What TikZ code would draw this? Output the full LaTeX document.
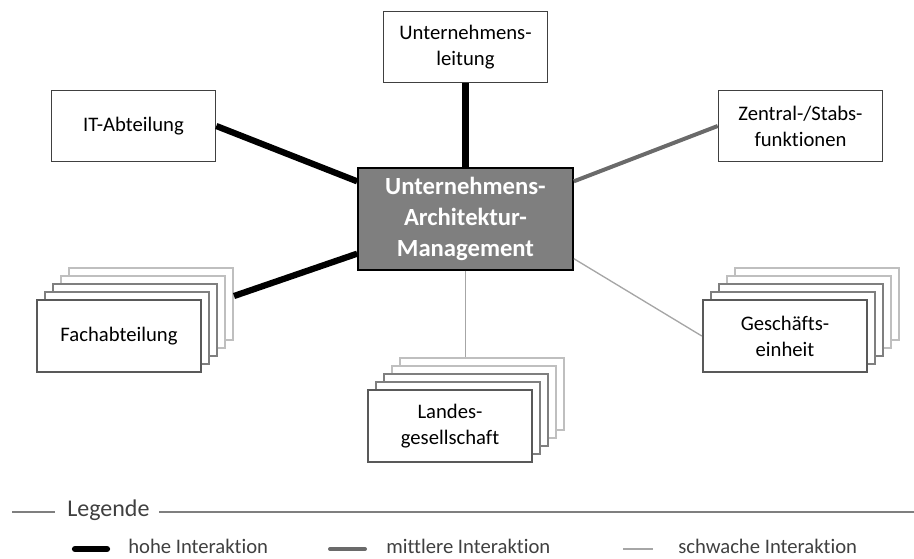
\documentclass[tikz,border=0pt]{standalone}
\usepackage{fontspec}
\setmainfont{Carlito}[Ligatures=NoCommon]

\definecolor{rahmen}{HTML}{404040}
\definecolor{dunkelgrau}{HTML}{595959}
\definecolor{mittelgrau}{HTML}{7F7F7F}
\definecolor{hellgrau}{HTML}{BFBFBF}
\definecolor{linienhell}{HTML}{A6A6A6}

\tikzset{
  box/.style={draw=rahmen, line width=1.2pt, fill=white, align=center,
    minimum width=123pt, minimum height=53pt, inner sep=0pt,
    font=\fontsize{15.5}{19.5}\selectfont},
  frontbox/.style={box, draw=dunkelgrau, line width=1.8pt, minimum height=54pt},
  backbox/.style={draw=#1, line width=1.5pt, fill=white,
    minimum width=123pt, minimum height=54pt, inner sep=0pt},
  hauptbox/.style={draw=black, line width=1.5pt, fill=mittelgrau,
    text=white, align=center, minimum width=161pt, minimum height=76pt,
    inner sep=0pt, font=\fontsize{18.5}{23}\selectfont\bfseries},
  hoch/.style={line width=4.7pt, black},
  mittel/.style={line width=3pt, dunkelgrau!90},
  schwach/.style={line width=1pt, linienhell},
  legtext/.style={text=rahmen, inner sep=0pt, font=\fontsize{15.5}{18}\selectfont},
  legline/.style={line width=1.5pt, mittelgrau},
}

\begin{document}
\begin{tikzpicture}[x=0.75pt, y=-0.75pt, line cap=butt]

  \useasboundingbox (0,0) rectangle (914,558);

  %%%%%%%%%%%%%%%%%%%%%%%%%%%%%%%%%%%%%%%%%%%%%%%%%
  % Zentrum
  \node[hauptbox] (zentrum) at (465.5,219)
      {Unternehmens-\\Architektur-\\Management};

  % Einzelne Boxen
  \node[box] (leitung) at (465.5,47) {Unternehmens-\\leitung};
  \node[box] (it) at (133.5,126) {IT-Abteilung};
  \node[box] (zentral) at (800.5,126) {Zentral-/Stabs-\\funktionen};

  %%%%%%%%%%%%%%%%%%%%%%%%%%%%%%%%%%%%%%%%%%%%%%%%%
  % Gestapelte Boxen
  \coordinate (fach-pos) at (119,336);
  \coordinate (landes-pos) at (450,426);
  \coordinate (geschaeft-pos) at (785,336);

  \foreach \name in {fach, landes, geschaeft} {
    \foreach \i/\farbe in {4/hellgrau, 3/hellgrau, 2/mittelgrau, 1/mittelgrau} {
      \node[backbox=\farbe] (\name-\i) at ([shift={(8*\i,-8*\i)}]\name-pos) {};
    }
  }

  \node[frontbox] (fach) at (fach-pos) {Fachabteilung};
  \node[frontbox] (landes) at (landes-pos) {Landes-\\gesellschaft};
  \node[frontbox] (geschaeft) at (geschaeft-pos) {Geschäfts-\\einheit};

  %%%%%%%%%%%%%%%%%%%%%%%%%%%%%%%%%%%%%%%%%%%%%%%%%
  % Verbindungen
  \draw[hoch] (leitung.south) -- (leitung.south |- zentrum.north);
  \draw[hoch] (it.east) -- ([shift={(0,14)}]zentrum.north west);
  \draw[hoch] ([shift={(0,-8)}]fach-4.east) -- ([shift={(0,-17)}]zentrum.south west);
  \draw[mittel] ([shift={(0,14)}]zentrum.north east) -- (zentral.west);
  \draw[schwach] (zentrum.south) -- (zentrum.south |- landes-4.north);
  \draw[schwach] ([shift={(0,-12)}]zentrum.south east) -- (geschaeft.west);

  %%%%%%%%%%%%%%%%%%%%%%%%%%%%%%%%%%%%%%%%%%%%%%%%%
  % Legende
  \node[legtext, anchor=west, font=\fontsize{18}{20}\selectfont] (legende)
      at (67,510) {Legende};
  \coordinate (leg-links) at (12,512);
  \coordinate (leg-rechts) at (914,512);
  \draw[legline] (leg-links) -- ([xshift=-9pt]legende.west |- leg-links);
  \draw[legline] ([xshift=7pt]legende.east |- leg-rechts) -- (leg-rechts);

  \coordinate (hoch-a) at (75,549);
  \coordinate (hoch-b) at (107,549);
  \coordinate (mittel-a) at (330,549);
  \coordinate (mittel-b) at (365,549);
  \coordinate (schwach-a) at (623,549);
  \coordinate (schwach-b) at (653,549);

  \draw[hoch, line cap=round] (hoch-a) -- (hoch-b);
  \draw[mittel, line cap=round] (mittel-a) -- (mittel-b);
  \draw[schwach] (schwach-a) -- (schwach-b);

  \node[legtext, anchor=west] (hoch-text) at (128,546) {hohe Interaktion};
  \node[legtext, anchor=west] (mittel-text) at (386,546) {mittlere Interaktion};
  \node[legtext, anchor=west] (schwach-text) at (678,546) {schwache Interaktion};

\end{tikzpicture}
\end{document}
